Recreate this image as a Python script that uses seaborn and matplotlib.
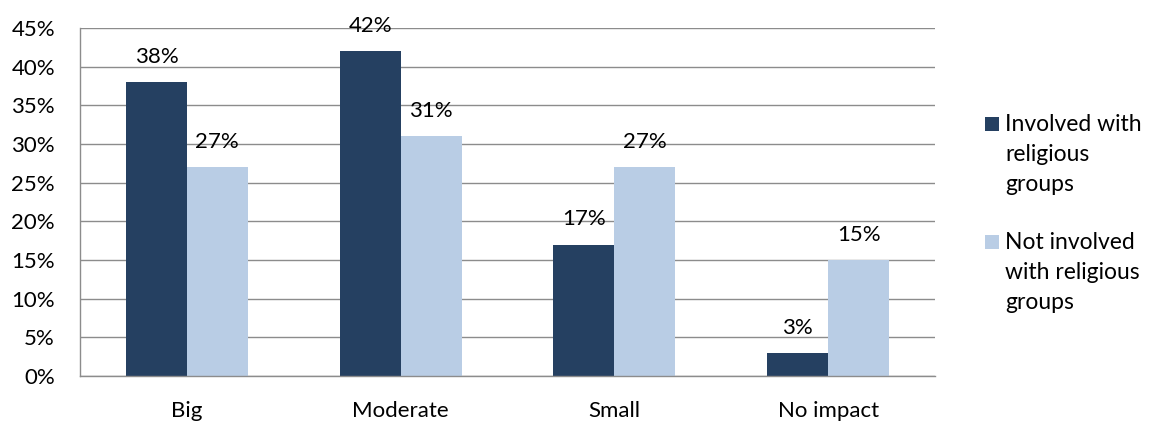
import matplotlib
matplotlib.use("Agg")
import matplotlib.pyplot as plt
import seaborn as sns
import pandas as pd
from matplotlib.patches import Rectangle

categories = ["Big", "Moderate", "Small", "No impact"]
involved = [38, 42, 17, 3]
not_involved = [27, 31, 27, 15]
series_names = ["Involved with religious groups", "Not involved with religious groups"]
legend_lines = [["Involved with", "religious", "groups"],
                ["Not involved", "with religious", "groups"]]
yticks = [0, 5, 10, 15, 20, 25, 30, 35, 40, 45]

colors = ["#254061", "#B9CDE5"]

df = pd.DataFrame({
    "category": categories * 2,
    "value": involved + not_involved,
    "series": [series_names[0]] * 4 + [series_names[1]] * 4,
})

sns.set_theme(style="white")
plt.rcParams['font.family'] = ['Lato', 'DejaVu Sans']
FS = 16
LFS = 16.5

W, H = 1154, 421
fig = plt.figure(figsize=(W / 100, H / 100), dpi=100)
ax = fig.add_axes([80 / W, 1 - 376 / H, (935 - 80) / W, (376 - 28) / H])

sns.barplot(data=df, x="category", y="value", hue="series", palette=colors,
            width=0.57, ax=ax, legend=False, saturation=1, edgecolor="none")

for cont in ax.containers:
    ax.bar_label(cont, labels=[f"{int(round(v))}%" for v in cont.datavalues],
                 padding=11, fontsize=FS, color="black")

ax.set_ylim(0, 45)
ax.set_yticks(yticks)
ax.set_yticklabels([f"{t}%" for t in yticks], fontsize=FS, color="black")
ax.set_xticks(range(len(categories)))
ax.set_xticklabels(categories, fontsize=FS, color="black")
ax.tick_params(axis="x", length=0, pad=18)
ax.tick_params(axis="y", length=0, pad=18)
ax.set_xlabel("")
ax.set_ylabel("")
ax.set_xlim(-0.5, 3.5)
ax.yaxis.grid(True, color="#8C8C8C", linewidth=1)
ax.set_axisbelow(True)
for s in ["top", "right"]:
    ax.spines[s].set_visible(False)
for s in ["left", "bottom"]:
    ax.spines[s].set_color("#8C8C8C")
    ax.spines[s].set_linewidth(1)

# legend (manual, Excel-like wrapped entries)
first_baselines = [131, 249]
line_step = 30
for color, lines, b0 in zip(colors, legend_lines, first_baselines):
    fig.patches.append(Rectangle((985 / W, 1 - b0 / H), 14 / W, 14 / H,
                                 transform=fig.transFigure, facecolor=color,
                                 edgecolor="none"))
    for i, line in enumerate(lines):
        fig.text(1005 / W, 1 - (b0 + i * line_step) / H, line, fontsize=LFS,
                 va="baseline", ha="left", color="black")

fig.savefig("out.png", dpi=100)
